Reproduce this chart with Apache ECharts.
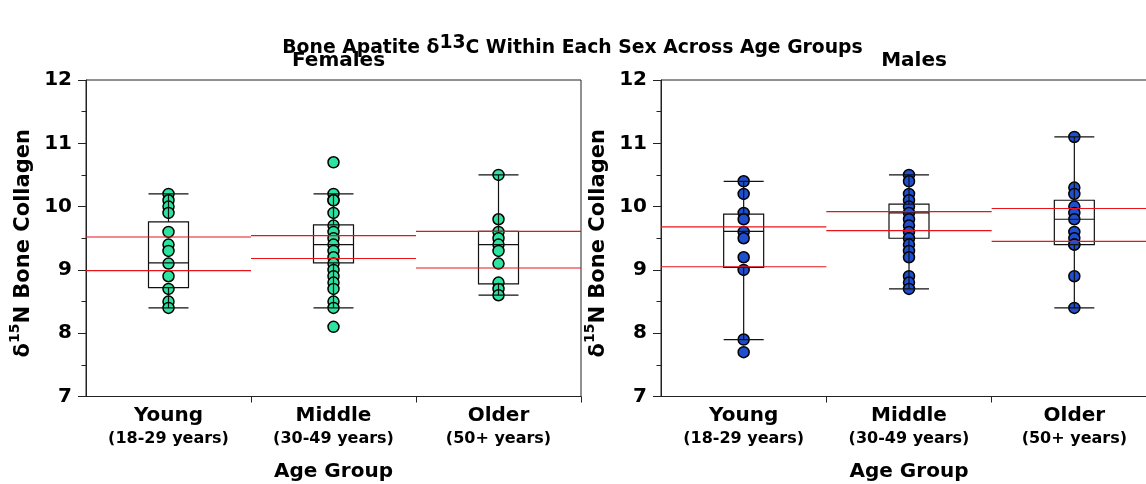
<!DOCTYPE html>
<html><head><meta charset="utf-8">
<script src="https://cdn.jsdelivr.net/npm/echarts@6/dist/echarts.min.js"></script>
<style>html,body{margin:0;padding:0;background:#fff}#c{width:1146px;height:484px}</style>
</head><body><div id="c"></div>
<script>
const categories = ['Young', 'Middle', 'Older'];
const ranges = ['(18-29 years)', '(30-49 years)', '(50+ years)'];
const yTicks = [7, 8, 9, 10, 11, 12];

// Females points
const femYoung = [10.2, 10.1, 10.0, 9.9, 9.6, 9.4, 9.3, 9.1, 8.9, 8.7, 8.5, 8.4];
const femMiddle = [10.7, 10.2, 10.1, 10.1, 9.9, 9.7, 9.6, 9.5, 9.4, 9.3, 9.2, 9.1, 9.0, 8.9, 8.8, 8.7, 8.5, 8.4, 8.1];
const femOlder = [10.5, 9.8, 9.6, 9.5, 9.4, 9.3, 9.1, 8.8, 8.7, 8.6];
// Males points
const maleYoung = [10.4, 10.2, 9.9, 9.8, 9.6, 9.5, 9.2, 9.0, 7.9, 7.7];
const maleMiddle = [10.5, 10.4, 10.2, 10.1, 10.0, 9.9, 9.8, 9.7, 9.6, 9.5, 9.4, 9.3, 9.2, 8.9, 8.8, 8.7];
const maleOlder = [11.1, 10.3, 10.2, 10.0, 9.9, 9.8, 9.6, 9.5, 9.4, 9.4, 8.9, 8.4];

// Box stats [min(whisker), Q1, median, Q3, max(whisker)]
const femBox = [[8.4, 8.72, 9.11, 9.76, 10.2], [8.4, 9.11, 9.40, 9.71, 10.2], [8.6, 8.78, 9.40, 9.61, 10.5]];
const maleBox = [[7.9, 9.04, 9.61, 9.88, 10.4], [8.7, 9.5, 9.9, 10.04, 10.5], [8.4, 9.4, 9.8, 10.1, 11.1]];

// Red reference lines per category
const femUpper = [9.52, 9.54, 9.61];
const femLower = [8.99, 9.18, 9.03];
const maleUpper = [9.68, 9.92, 9.97];
const maleLower = [9.05, 9.62, 9.45];

const FF = 'DejaVu Sans';
const femColor = '#2de3a0';
const maleColor = '#1f4ecf';

function pts(groups) {
  const out = [];
  groups.forEach((g, i) => g.forEach(v => out.push([i, v])));
  return out;
}
function refLines(up, lo) {
  const out = [];
  up.forEach((v, i) => out.push([i, v]));
  lo.forEach((v, i) => out.push([i, v]));
  return out;
}

const grids = [
  { left: 86, top: 80, width: 495, bottom: 87.5, show: true, borderColor: '#222', borderWidth: 1, backgroundColor: 'transparent', outerBoundsMode: 'none', containLabel: false },
  { left: 661, top: 80, width: 496, bottom: 87.5, show: true, borderColor: '#222', borderWidth: 1, backgroundColor: 'transparent', outerBoundsMode: 'none', containLabel: false }
];

function xAxisFor(i) {
  return {
    type: 'category', gridIndex: i, data: categories,
    axisLine: { lineStyle: { color: '#222', width: 1 } },
    axisTick: { show: true, length: 6, lineStyle: { color: '#222' }, interval: (idx) => idx !== 0 },
    axisLabel: {
      margin: 7, interval: 0,
      formatter: (v, idx) => '{a|' + v + '}\n{b|' + ranges[idx] + '}',
      rich: {
        a: { fontFamily: FF, fontWeight: 'bold', fontSize: 20, color: '#000', lineHeight: 25 },
        b: { fontFamily: FF, fontWeight: 'bold', fontSize: 16, color: '#000', lineHeight: 20 }
      }
    },
    name: 'Age Group', nameLocation: 'middle', nameGap: 65,
    nameTextStyle: { fontFamily: FF, fontWeight: 'bold', fontSize: 20, color: '#000' }
  };
}
function yAxisFor(i) {
  return {
    type: 'value', gridIndex: i, min: yTicks[0], max: yTicks[yTicks.length - 1], interval: 1,
    axisLine: { show: true, lineStyle: { color: '#222', width: 1 } },
    axisTick: { show: true, length: 8, lineStyle: { color: '#222' } },
    minorTick: { show: true, splitNumber: 2, length: 4.5, lineStyle: { color: '#222' } },
    splitLine: { show: false },
    axisLabel: { margin: 14, fontFamily: FF, fontWeight: 'bold', fontSize: 20, color: '#000' },
    name: '{d|δ}{s|15}{n|N Bone Collagen}', nameLocation: 'middle', nameGap: 52, nameRotate: 90,
    nameTextStyle: {
      padding: [0, 10, 0, 0],
      rich: {
        d: { fontFamily: FF, fontWeight: 'bold', fontSize: 21, color: '#000', verticalAlign: 'bottom', lineHeight: 26 },
        s: { fontFamily: FF, fontWeight: 'bold', fontSize: 14, color: '#000', verticalAlign: 'top', lineHeight: 26 },
        n: { fontFamily: FF, fontWeight: 'bold', fontSize: 21, color: '#000', verticalAlign: 'bottom', lineHeight: 26 }
      }
    }
  };
}

function panelSeries(i, groups, box, up, lo, color) {
  return [
    {
      type: 'scatter', xAxisIndex: i, yAxisIndex: i, data: pts(groups), z: 2,
      symbol: 'circle', symbolSize: 11,
      itemStyle: { color: color, borderColor: '#000', borderWidth: 1.5, opacity: 1 },
      silent: true
    },
    {
      type: 'boxplot', xAxisIndex: i, yAxisIndex: i, data: box, z: 3,
      boxWidth: [40, 40],
      itemStyle: { color: 'rgba(0,0,0,0)', borderColor: '#111', borderWidth: 1.2 },
      silent: true
    },
    {
      type: 'custom', xAxisIndex: i, yAxisIndex: i, data: refLines(up, lo), z: 4, silent: true,
      clip: true,
      renderItem: function (params, api) {
        const p = api.coord([api.value(0), api.value(1)]);
        const w = api.size([1, 0])[0];
        return {
          type: 'line',
          shape: { x1: p[0] - w / 2, y1: p[1], x2: p[0] + w / 2, y2: p[1] },
          style: { stroke: '#e8141a', lineWidth: 1.2 }
        };
      }
    }
  ];
}

const option = {
  animation: false,
  backgroundColor: '#fff',
  title: [
    {
      text: '{b|Bone Apatite δ}{s|13}{b|C Within Each Sex Across Age Groups}',
      left: 567.5, top: 29, textAlign: 'center',
      textStyle: {
        rich: {
          b: { fontFamily: FF, fontWeight: 'bold', fontSize: 18.8, color: '#000', verticalAlign: 'bottom', lineHeight: 24 },
          s: { fontFamily: FF, fontWeight: 'bold', fontSize: 18.8, color: '#000', verticalAlign: 'top', lineHeight: 24 }
        }
      }
    },
    { text: 'Females', left: 333.5, top: 46, textAlign: 'center',
      textStyle: { fontFamily: FF, fontWeight: 'bold', fontSize: 20, color: '#000' } },
    { text: 'Males', left: 909, top: 46, textAlign: 'center',
      textStyle: { fontFamily: FF, fontWeight: 'bold', fontSize: 20, color: '#000' } }
  ],
  grid: grids,
  xAxis: [xAxisFor(0), xAxisFor(1)],
  yAxis: [yAxisFor(0), yAxisFor(1)],
  series: [
    ...panelSeries(0, [femYoung, femMiddle, femOlder], femBox, femUpper, femLower, femColor),
    ...panelSeries(1, [maleYoung, maleMiddle, maleOlder], maleBox, maleUpper, maleLower, maleColor)
  ]
};

const chart = echarts.init(document.getElementById('c'), null, { renderer: 'canvas' });
chart.setOption(option);
</script>
</body></html>
